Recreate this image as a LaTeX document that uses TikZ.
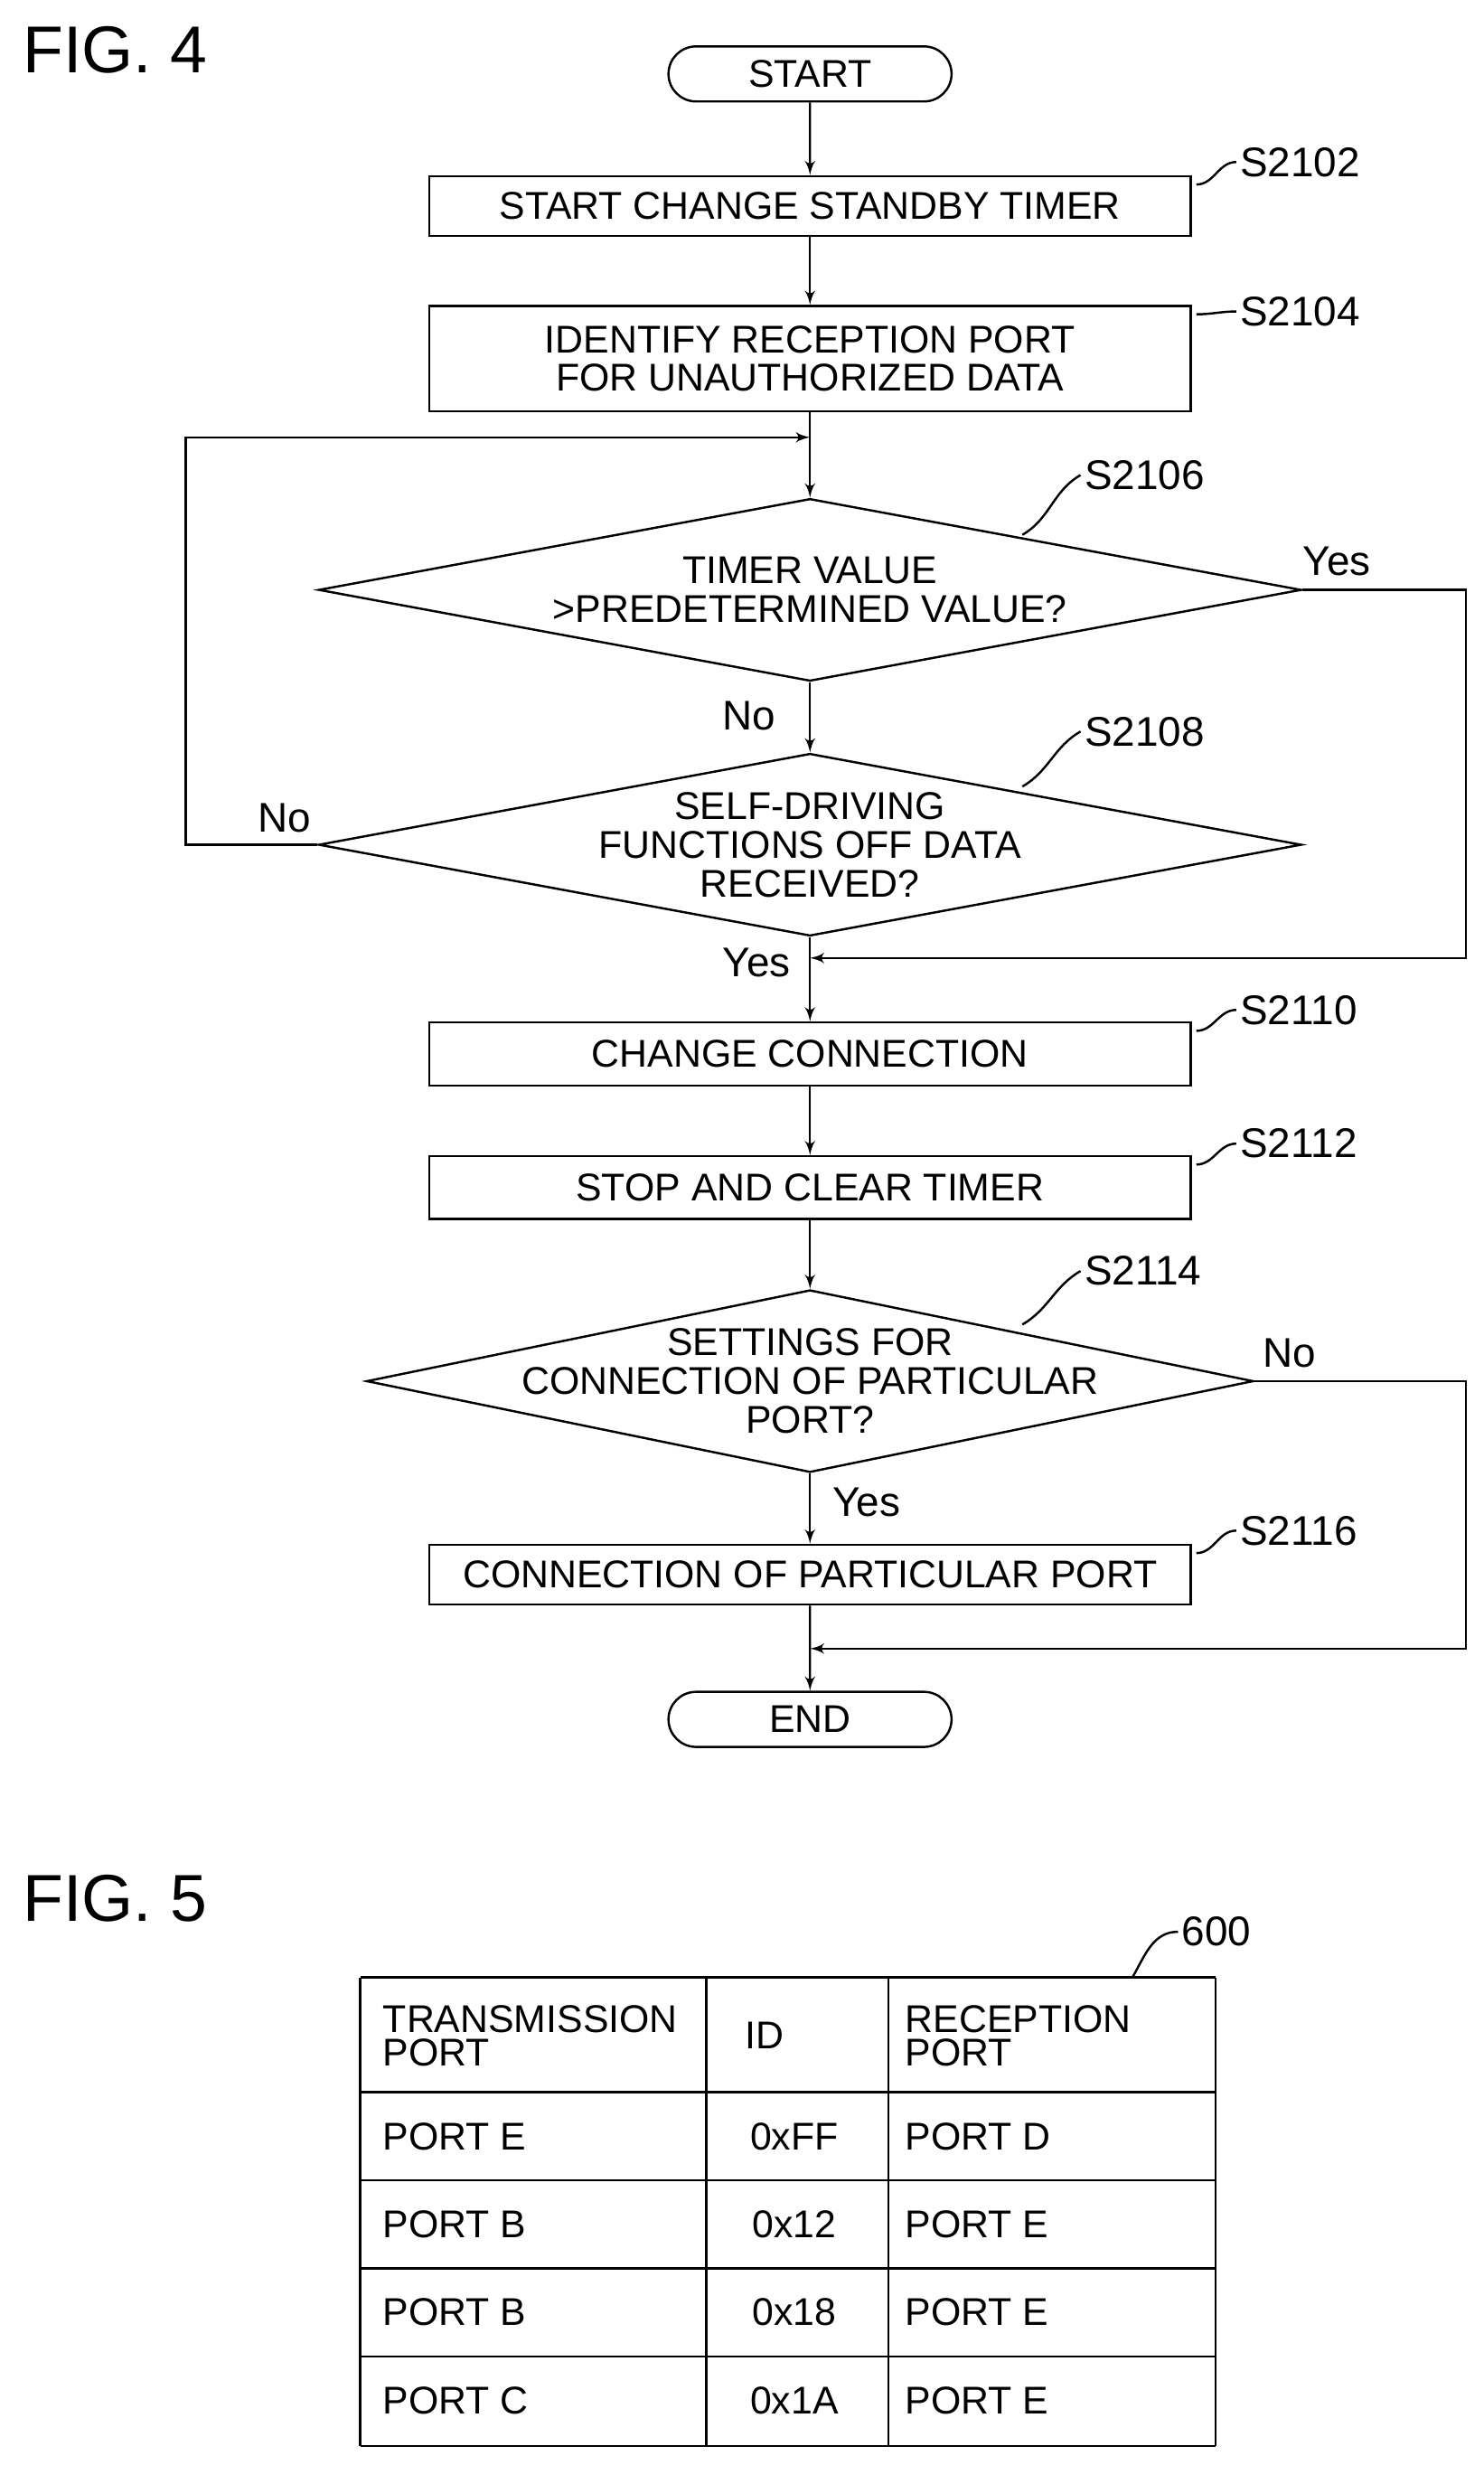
\documentclass[tikz,border=0pt]{standalone}
\usepackage{fontspec}
\setmainfont{Liberation Sans}
\usetikzlibrary{arrows,positioning,calc,shapes.geometric,shapes.misc}

\begin{document}
\begin{tikzpicture}[x=0.02cm, y=-0.02cm,
            every node/.style={font=\fontsize{14}{16}\selectfont},
            box/.style={draw, thick, rectangle, minimum width=9.68cm, minimum height=0.76cm, inner sep=0pt, align=center},
            term/.style={draw, thick, rounded rectangle, minimum width=3.6cm, minimum height=0.7cm, inner sep=0pt},
            dec/.style={draw, thick, diamond, inner sep=0pt, minimum height=2.32cm},
            steplbl/.style={font=\fontsize{15}{17}\selectfont, anchor=west},
            yn/.style={font=\fontsize{15}{17}\selectfont},
            fig/.style={font=\fontsize{24}{28}\selectfont, anchor=west},
            cell/.style={anchor=west, align=left, font=\fontsize{14}{15}\selectfont},
            every path/.style={thick},
            flow/.style={->, draw, thick, -latex'}]
        \useasboundingbox (0,0) rectangle (943,1567);
        \node[fig] (f4) at (8,32) {FIG. 4};
        \node[fig] (f5) at (8,1207) {FIG. 5};
        % flowchart
        \node[term] (start) at (515,47) {START};
        \node[box] (s2102) at (515,131) {START CHANGE STANDBY TIMER};
        \node[box, minimum height=1.34cm] (s2104) at (515,228) {IDENTIFY RECEPTION PORT\\[-2pt]FOR UNAUTHORIZED DATA};
        \node[dec, minimum width=12.5cm] (s2106) at (515,375) {};
        \node[align=center] at (s2106) {TIMER VALUE\\[-2pt]\textgreater PREDETERMINED VALUE?};
        \node[dec, minimum width=12.5cm] (s2108) at (515,537) {};
        \node[align=center] at (s2108) {SELF-DRIVING\\[-2pt]FUNCTIONS OFF DATA\\[-2pt]RECEIVED?};
        \node[box, minimum height=0.8cm] (s2110) at (515,670) {CHANGE CONNECTION};
        \node[box, minimum height=0.8cm] (s2112) at (515,755) {STOP AND CLEAR TIMER};
        \node[dec, minimum width=11.28cm] (s2114) at (515,878) {};
        \node[align=center] at (s2114) {SETTINGS FOR\\[-2pt]CONNECTION OF PARTICULAR\\[-2pt]PORT?};
        \node[box] (s2116) at (515,1001) {CONNECTION OF PARTICULAR PORT};
        \node[term] (end) at (515,1093) {END};
        \coordinate (j1) at (515,278);
        \coordinate (j2) at (515,609);
        \coordinate (j3) at (515,1048);
        \draw[flow] (start) -- (s2102);
        \draw[flow] (s2102) -- (s2104);
        \draw[flow] (s2104) -- (s2106.north);
        \draw[flow] (s2106.south) -- (s2108.north);
        \draw[flow] (s2108.south) -- (s2110);
        \draw[flow] (s2110) -- (s2112);
        \draw[flow] (s2112) -- (s2114.north);
        \draw[flow] (s2114.south) -- (s2116);
        \draw[flow] (s2116) -- (end);
        \draw[flow] (s2106.east) -- (932,375) -- (932,609) -- (j2);
        \draw[flow] (s2108.west) -- (118,537) -- (118,278) -- (j1);
        \draw[flow] (s2114.east) -- (932,878) -- (932,1048) -- (j3);
        \node[yn] (y1) at (850,357) {Yes};
        \node[yn] (n1) at (476,455) {No};
        \node[yn] (n2) at (181,520) {No};
        \node[yn] (y2) at (481,612) {Yes};
        \node[yn] (n3) at (820,860) {No};
        \node[yn] (y3) at (551,955) {Yes};
        % step labels
        \node[steplbl] (l2102) at (782,103) {S2102};
        \node[steplbl] (l2104) at (782,198) {S2104};
        \node[steplbl] (l2106) at (683,302) {S2106};
        \node[steplbl] (l2108) at (683,465) {S2108};
        \node[steplbl] (l2110) at (782,642) {S2110};
        \node[steplbl] (l2112) at (782,727) {S2112};
        \node[steplbl] (l2114) at (683,808) {S2114};
        \node[steplbl] (l2116) at (782,973) {S2116};
        \foreach \b/\l in {s2102/l2102, s2104/l2104, s2110/l2110, s2112/l2112, s2116/l2116}
            \draw ($(\b.north east)+(3,6)$) to[out=0,in=180] ($(\l.west)+(4,0)$);
        \draw (650,340) to[out=30,in=210] ($(l2106.west)+(4,0)$);
        \draw (650,500) to[out=30,in=210] ($(l2108.west)+(4,0)$);
        \draw (650,842) to[out=30,in=210] ($(l2114.west)+(4,0)$);
        % table
        \foreach \y in {1257,1330,1386,1442,1498,1555}
            \draw (229,\y) -- (773,\y);
        \foreach \x in {229,449,565,773}
            \draw (\x,1257) -- (\x,1555);
        \node[cell] (h1) at (237,1294) {TRANSMISSION\\[-3pt]PORT};
        \node (h2) at (486,1294) {ID};
        \node[cell] (h3) at (569,1294) {RECEPTION\\[-3pt]PORT};
        \foreach \y/\a/\i/\c in {1358/PORT E/0xFF/PORT D, 1414/PORT B/0x12/PORT E, 1470/PORT B/0x18/PORT E, 1526/PORT C/0x1A/PORT E}{
            \node[cell] at (237,\y) {\a};
            \node at (505,\y) {\i};
            \node[cell] at (569,\y) {\c};
        }
        \node[steplbl] (l600) at (745,1228) {600};
        \draw (720,1257) to[out=60,in=180] ($(l600.west)+(4,0)$);
\end{tikzpicture}
\end{document}
